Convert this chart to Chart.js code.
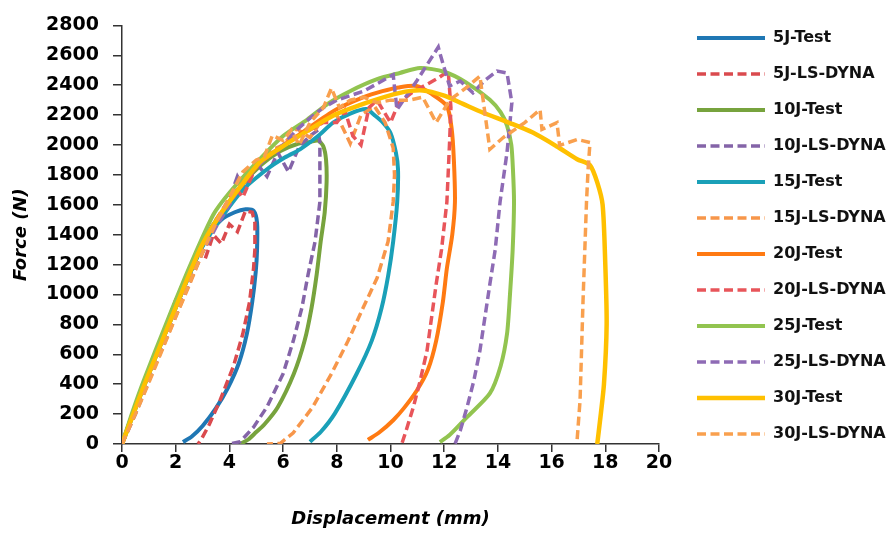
<!DOCTYPE html>
<html>
<head>
<meta charset="utf-8">
<script src="https://cdn.jsdelivr.net/npm/chart.js@4.4.1/dist/chart.umd.min.js"></script>
<style>
  html, body { margin: 0; padding: 0; background: #fff; }
</style>
</head>
<body>
<canvas id="forceChart" width="889" height="534"></canvas>
<script>
// series names, in the order Excel drew them
const seriesNames = [
  "5J-Test", "5J-LS-DYNA", "10J-Test", "10J-LS-DYNA", "15J-Test", "15J-LS-DYNA",
  "20J-Test", "20J-LS-DYNA", "25J-Test", "25J-LS-DYNA", "30J-Test", "30J-LS-DYNA"
];

// [displacement mm, force N]
const test5J = [[0,0],[0.4,190],[0.8,380],[1.2,560],[1.7,780],[2.2,1000],[2.7,1210],[3.2,1390],[3.7,1500],[4.2,1550],[4.6,1570],[4.9,1560],[5.03,1480],[5.03,1300],[4.98,1150],[4.85,950],[4.65,737],[4.35,540],[3.95,378],[3.5,240],[3.0,120],[2.6,50],[2.27,13]];
const dyna5J = [[0,0],[0.5,230],[1.0,480],[1.5,720],[2.0,960],[2.5,1150],[2.8,1280],[3.1,1240],[3.4,1400],[3.7,1340],[4.0,1470],[4.3,1420],[4.6,1560],[4.85,1550],[4.95,1480],[4.95,1300],[4.9,1175],[4.75,950],[4.5,737],[4.15,520],[3.65,292],[3.25,130],[2.95,30],[2.83,0]];
const test10J = [[0,0],[0.4,205],[0.8,405],[1.7,810],[2.6,1190],[3.3,1440],[3.8,1570],[4.5,1740],[5.2,1870],[5.9,1960],[6.5,2005],[7.0,2020],[7.3,2030],[7.5,1990],[7.6,1900],[7.62,1750],[7.55,1550],[7.4,1354],[7.25,1133],[7.06,911],[6.8,690],[6.4,470],[5.8,246],[5.3,130],[5.0,80],[4.7,30],[4.4,0]];
const dyna10J = [[0,0],[0.5,200],[1.0,420],[1.5,640],[2.0,860],[2.5,1080],[3.0,1290],[3.5,1470],[4.0,1640],[4.3,1790],[4.6,1700],[5.0,1880],[5.4,1790],[5.8,1950],[6.2,1820],[6.6,1990],[7.0,2060],[7.3,2100],[7.37,2017],[7.37,1619],[7.19,1354],[6.93,1133],[6.7,911],[6.38,690],[6.0,470],[5.4,248],[4.9,113],[4.4,15],[4.0,0]];
const test15J = [[0,0],[0.4,190],[0.8,380],[1.7,780],[2.9,1290],[3.65,1500],[4.5,1700],[5.4,1838],[6.0,1910],[6.63,1971],[7.3,2060],[7.86,2150],[8.5,2210],[9.1,2240],[9.4,2200],[9.72,2150],[10.0,2080],[10.2,1950],[10.28,1838],[10.25,1619],[10.1,1354],[9.92,1133],[9.67,911],[9.3,690],[8.74,470],[7.93,205],[7.4,80],[7.0,15]];
const dyna15J = [[0,0],[0.5,220],[1.0,430],[1.5,640],[2.0,850],[2.5,1060],[3.0,1280],[3.5,1460],[4.0,1640],[4.5,1800],[5.0,1880],[5.5,1960],[6.0,2000],[6.5,2110],[7.0,2050],[7.5,2180],[8.0,2200],[8.5,2010],[8.9,2200],[9.4,2260],[9.8,2150],[10.1,1980],[10.15,1800],[10.1,1619],[9.91,1354],[9.5,1110],[8.98,911],[8.42,690],[7.8,470],[7.1,246],[6.37,73],[5.9,5],[5.4,0]];
const test20J = [[0,0],[0.4,200],[0.8,390],[1.7,790],[2.9,1300],[3.65,1530],[4.5,1740],[5.2,1890],[6.6,2070],[7.9,2230],[9.0,2320],[9.7,2360],[10.3,2385],[10.97,2395],[11.5,2345],[12.1,2260],[12.28,2105],[12.36,1900],[12.4,1619],[12.3,1400],[12.1,1175],[11.95,950],[11.7,690],[11.4,500],[10.98,358],[10.5,240],[10.1,159],[9.6,80],[9.16,27]];
const dyna20J = [[0,0],[0.5,240],[1,490],[1.5,730],[2,960],[2.5,1170],[3,1350],[3.5,1500],[4,1640],[4.2,1720],[4.5,1650],[5,1860],[5.5,1930],[6,2000],[6.5,2050],[7,2100],[7.5,2150],[8,2150],[8.3,2230],[8.6,2060],[8.9,2000],[9.2,2250],[9.5,2300],[10.0,2150],[10.3,2280],[10.8,2350],[11.3,2400],[11.8,2450],[12.15,2495],[12.25,2250],[12.2,2017],[12.1,1619],[11.9,1300],[11.7,1068],[11.36,624],[11.1,420],[10.85,246],[10.6,100],[10.42,0]];
const test25J = [[0,0],[0.4,220],[0.8,420],[1.7,830],[2.6,1220],[3.4,1533],[4.0,1680],[5.0,1880],[6.0,2060],[6.9,2170],[7.7,2280],[8.49,2360],[9.5,2440],[10.35,2482],[11.1,2515],[12.0,2490],[12.8,2420],[13.7,2303],[14.1,2220],[14.34,2130],[14.5,2000],[14.56,1838],[14.6,1619],[14.55,1300],[14.45,1000],[14.34,737],[14.1,520],[13.7,338],[12.85,180],[12.2,60],[11.84,13]];
const dyna25J = [[0,0],[0.5,210],[1,430],[1.5,650],[2,870],[2.5,1080],[3,1280],[3.5,1450],[4,1600],[4.5,1750],[5,1850],[5.5,1930],[6,2000],[6.5,2100],[7.0,2180],[7.5,2250],[8.0,2300],[8.5,2330],[9.0,2360],[9.5,2410],[10.1,2470],[10.24,2236],[10.6,2330],[11.0,2435],[11.47,2568],[11.78,2655],[11.84,2614],[12.2,2395],[12.6,2428],[13.07,2349],[13.5,2430],[13.97,2495],[14.34,2482],[14.52,2283],[14.34,1951],[14.08,1619],[13.9,1300],[13.7,1068],[13.33,624],[13.1,420],[12.85,246],[12.6,90],[12.4,0]];
const test30J = [[0,0],[0.4,190],[0.8,380],[1.7,780],[2.9,1300],[3.65,1533],[4.4,1720],[5.14,1885],[5.9,1980],[6.63,2064],[7.86,2196],[9.12,2283],[10.35,2349],[11.2,2365],[12.0,2330],[12.7,2275],[13.45,2216],[14.4,2150],[15.3,2083],[16.2,1990],[16.95,1905],[17.43,1865],[17.7,1750],[17.9,1600],[18.0,1200],[18.05,800],[17.95,400],[17.8,150],[17.7,0]];
const dyna30J = [[0,0],[0.5,200],[1,410],[1.5,630],[2,850],[2.5,1070],[3,1280],[3.5,1480],[4,1650],[4.5,1820],[5,1900],[5.3,1920],[5.6,2064],[6.0,2030],[6.3,2100],[6.6,2000],[7.0,2150],[7.5,2250],[7.8,2380],[8.1,2250],[8.5,2300],[9.0,2320],[9.5,2283],[10.0,2300],[10.7,2300],[11.2,2320],[11.7,2150],[12.2,2300],[12.8,2380],[13.33,2460],[13.7,1971],[14.2,2050],[15.0,2150],[15.57,2236],[15.64,2104],[16.2,2150],[16.3,1997],[16.95,2037],[17.43,2017],[17.36,1838],[17.3,1619],[17.17,955],[17.06,292],[16.95,27]];

const seriesData = [test5J, dyna5J, test10J, dyna10J, test15J, dyna15J,
                    test20J, dyna20J, test25J, dyna25J, test30J, dyna30J];

const seriesColors = [
  "#1F77B4", "#DA4A4E", "#77A33D", "#8464A8", "#1AA0B8", "#F7964A",
  "#FF7A12", "#E8555A", "#92C450", "#8E6BB5", "#FFC000", "#F9A04E"
];

const FONT = "'DejaVu Sans', 'Liberation Sans', sans-serif";

const datasets = seriesNames.map((name, i) => {
  const dashed = name.indexOf("DYNA") !== -1;
  return {
    label: name,
    data: seriesData[i].map(p => ({ x: p[0], y: p[1] })),
    showLine: true,
    borderColor: seriesColors[i],
    backgroundColor: seriesColors[i],
    borderWidth: dashed ? 3.5 : (name === "30J-Test" ? 4.5 : 4),
    borderDash: dashed ? [9, 4.5] : [],
    tension: dashed ? 0 : 0.25,
    pointRadius: 0,
    pointHoverRadius: 0,
    order: seriesNames.length - i, // later series on top, like Excel
  };
});

// move the legend block to where it sits in the picture
const legendPlace = {
  id: "legendPlace",
  afterLayout(chart) {
    const lg = chart.legend;
    const dx = 677 - lg.left;
    const dy = 10 - lg.top;
    lg.left += dx; lg.right += dx;
    lg.top += dy; lg.bottom += dy;
  },
};

new Chart(document.getElementById("forceChart"), {
  type: "scatter",
  data: { datasets },
  plugins: [legendPlace],
  options: {
    responsive: false,
    animation: false,
    layout: { padding: { top: 22, left: 0, right: 0, bottom: 0 } },
    plugins: {
      tooltip: { enabled: false },
      legend: {
        position: "right",
        align: "start",
        labels: {
          usePointStyle: true,
          pointStyle: "line",
          pointStyleWidth: 68,
          padding: 20,
          color: "#111",
          font: { family: FONT, size: 16, weight: "bold" },
          sort: (a, b) => a.datasetIndex - b.datasetIndex,
          // point style legend does not pick up borderDash, so copy it over
          generateLabels(chart) {
            const items = Chart.defaults.plugins.legend.labels.generateLabels(chart);
            items.forEach(it => {
              const ds = chart.data.datasets[it.datasetIndex];
              it.lineDash = ds.borderDash;
              it.lineWidth = ds.borderWidth;
              it.strokeStyle = ds.borderColor;
            });
            return items;
          },
        },
      },
    },
    scales: {
      x: {
        type: "linear",
        min: 0,
        max: 20,
        ticks: { stepSize: 2, padding: 0, color: "#000", font: { family: FONT, size: 19, weight: "bold" } },
        grid: { drawOnChartArea: false, drawTicks: true, tickLength: 8, color: "#333", lineWidth: 1.5 },
        border: { display: true, color: "#333", width: 1.5 },
        title: {
          display: true,
          text: "Displacement (mm)",
          color: "#000",
          padding: { top: 0, bottom: 4 },
          font: { family: FONT, size: 18, weight: "bold", style: "italic" },
        },
        afterFit(scale) {
          scale.height = 90;
          scale.paddingRight = 230;
        },
      },
      y: {
        min: 0,
        max: 2800,
        ticks: {
          stepSize: 200,
          padding: 14,
          color: "#000",
          font: { family: FONT, size: 19, weight: "bold" },
          callback: v => String(v),
        },
        grid: { drawOnChartArea: false, drawTicks: true, tickLength: 9, color: "#333", lineWidth: 1.5 },
        border: { display: true, color: "#333", width: 1.5 },
        title: {
          display: true,
          text: "Force (N)",
          color: "#000",
          padding: { top: 11, bottom: 0 },
          font: { family: FONT, size: 18, weight: "bold", style: "italic" },
        },
        afterFit(scale) {
          scale.width = 122;
        },
      },
    },
  },
});
</script>
</body>
</html>
